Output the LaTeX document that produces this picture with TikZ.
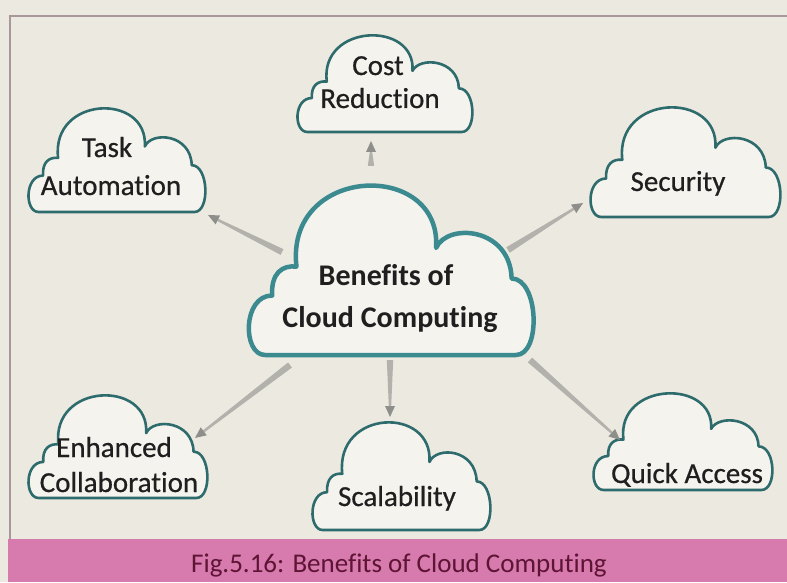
\documentclass[tikz,border=0pt]{standalone}
\usepackage{fontspec}
\setmainfont{Carlito}[Ligatures=NoCommon]
\newfontfamily\lblfont{Carlito}[Ligatures=NoCommon, FakeBold=0.6]
\usetikzlibrary{arrows.meta,calc}
\definecolor{bgc}{HTML}{ECE9E0}
\definecolor{cfill}{HTML}{F5F3EE}
\definecolor{cline}{HTML}{2E6B6C}
\definecolor{cmain}{HTML}{3A8A8F}
\definecolor{bandc}{HTML}{D77AAD}
\definecolor{captxt}{HTML}{5E1435}
\definecolor{framec}{HTML}{A8979B}
\definecolor{shaftc}{HTML}{B2B1AC}
\definecolor{headc}{HTML}{8E8E8A}
\definecolor{txtc}{HTML}{1F1F1F}
\tikzset{
  cloudbox/.style={inner sep=0pt, outer sep=0pt},
  smallcloud/.style={draw=cline, line width=2.6pt, fill=cfill, line join=round},
  bigcloud/.style={draw=cmain, line width=4.5pt, fill=cfill, line join=round},
  lbl/.style={font=\lblfont\fontsize{29}{35}\selectfont, text=txtc, inner sep=0pt, anchor=base},
  mainlbl/.style={font=\bfseries\fontsize{30}{36}\selectfont, text=txtc, inner sep=0pt, anchor=base},
  caplbl/.style={font=\fontsize{27}{32}\selectfont, text=captxt, inner sep=0pt, anchor=base},
}
\newcommand\mkcloud[6]{%
  \node[cloudbox, minimum width=#4pt, minimum height=#5pt] (#1) at (#2,#3) {};
  \begin{scope}[shift={(#1.south west)}, x=#4pt, y=#5pt]
    \draw[#6] (0.06,0) .. controls (-0.02,0) and (-0.02,0.35) .. (0.085,0.35)
      .. controls (0.08,0.48) and (0.12,0.53) .. (0.17,0.52)
      .. controls (0.13,1.12) and (0.68,1.15) .. (0.66,0.63)
      .. controls (0.70,0.78) and (0.92,0.75) .. (0.925,0.45)
      .. controls (1.02,0.45) and (1.03,0) .. (0.94,0) -- cycle;
  \end{scope}}
% tapered connector from #1 to #2
\newcommand\taper[2]{%
  \coordinate (ta) at #1;
  \coordinate (tb) at #2;
  \coordinate (th) at ($(tb)!11pt!(ta)$);
  \fill[shaftc] ($(ta)!3.2pt!90:(tb)$) -- ($(th)!1.2pt!-90:(ta)$)
     -- ($(th)!1.2pt!90:(ta)$) -- ($(ta)!3.2pt!-90:(tb)$) -- cycle;
  \fill[headc] (tb) -- ($(th)!5pt!90:(ta)$) -- ($(th)!5pt!-90:(ta)$) -- cycle;
}
\begin{document}
\begin{tikzpicture}[x=1pt,y=1pt]
\useasboundingbox (0,0) rectangle (787,582);
\fill[bgc] (0,0) rectangle (787,582);
\fill[bandc] (8,0) rectangle (787,43);
\draw[framec, line width=1.5pt] (10,43) -- (10,566) -- (787,566);

\mkcloud{ctr}{390.5}{312}{285}{170}{bigcloud}
\mkcloud{cost}{384.5}{498.5}{175}{97}{smallcloud}
\mkcloud{task}{116.5}{422}{177}{104}{smallcloud}
\mkcloud{sec}{685}{420}{190}{110}{smallcloud}
\mkcloud{enh}{117.5}{135.5}{179}{103}{smallcloud}
\mkcloud{scal}{401}{106}{178}{108}{smallcloud}
\mkcloud{quick}{682.5}{140.5}{179}{97}{smallcloud}

\node[mainlbl] (tctr1) at (386,297) {Benefits of};
\node[mainlbl] (tctr2) at (390,255) {Cloud Computing};
\node[lbl] (tcost1) at (378,507) {Cost};
\node[lbl] (tcost2) at (380,474) {Reduction};
\node[lbl] (ttask1) at (107,425) {Task};
\node[lbl] (ttask2) at (111,387) {Automation};
\node[lbl] (tsec) at (678,391) {Security};
\node[lbl] (tenh1) at (114,125) {Enhanced};
\node[lbl] (tenh2) at (119,90) {Collaboration};
\node[lbl] (tscal) at (397,76) {Scalability};
\node[lbl] (tquick) at (687,99) {Quick Access};
\node[caplbl] (cap) at (399,10) {Fig.5.16: Benefits of Cloud Computing};

\taper{([shift={(-19.5,104)}]ctr.center)}{([shift={(-13.5,-57.5)}]cost.center)}
\taper{([shift={(-108.5,18)}]ctr.center)}{([shift={(91.5,-55)}]task.center)}
\taper{([shift={(117.5,20)}]ctr.center)}{([shift={(-102,-41)}]sec.center)}
\taper{([shift={(-100.5,-95)}]ctr.center)}{([shift={(77.5,8.5)}]enh.center)}
\taper{([shift={(-0.5,-90)}]ctr.center)}{([shift={(-11,59)}]scal.center)}
\taper{([shift={(139.5,-90)}]ctr.center)}{([shift={(-62.5,1.5)}]quick.center)}
\end{tikzpicture}
\end{document}
